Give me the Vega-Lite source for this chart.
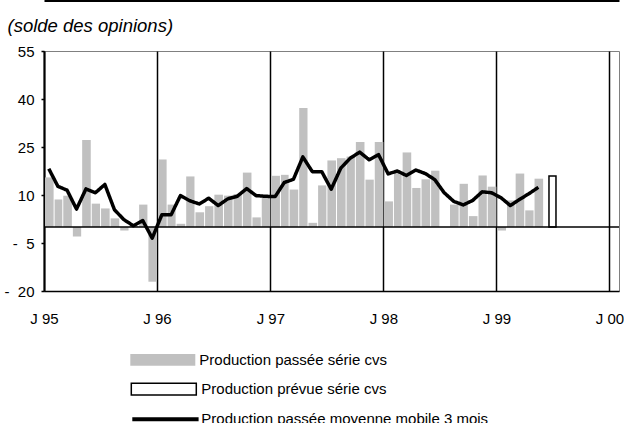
{
  "$schema": "https://vega.github.io/schema/vega-lite/v6.json",
  "width": 575,
  "height": 240,
  "padding": {"left": 3, "top": 0, "right": 0, "bottom": 0},
  "background": "white",
  "config": {
    "view": {"stroke": "#808080", "strokeWidth": 1},
    "font": "Liberation Sans",
    "axis": {"labelFont": "Liberation Sans", "titleFont": "Liberation Sans", "labelColor": "black", "titleColor": "black"},
    "legend": {"labelFont": "Liberation Sans", "labelFontSize": 15, "labelColor": "black", "labelLimit": 400, "padding": 0, "title": null}
  },
  "datasets": {
    "passee": [
      {"mois": "1995/01/01", "valeur": 15.5}, {"mois": "1995/02/01", "valeur": 8.6}, {"mois": "1995/03/01", "valeur": 9.8},
      {"mois": "1995/04/01", "valeur": -3}, {"mois": "1995/05/01", "valeur": 27.2}, {"mois": "1995/06/01", "valeur": 7.3},
      {"mois": "1995/07/01", "valeur": 5.8}, {"mois": "1995/08/01", "valeur": 2.7}, {"mois": "1995/09/01", "valeur": -1.1},
      {"mois": "1995/10/01", "valeur": 0.3}, {"mois": "1995/11/01", "valeur": 7}, {"mois": "1995/12/01", "valeur": -17.1},
      {"mois": "1996/01/01", "valeur": 21.1}, {"mois": "1996/02/01", "valeur": 7}, {"mois": "1996/03/01", "valeur": 1},
      {"mois": "1996/04/01", "valeur": 15.8}, {"mois": "1996/05/01", "valeur": 4.6}, {"mois": "1996/06/01", "valeur": 6.5},
      {"mois": "1996/07/01", "valeur": 10.1}, {"mois": "1996/08/01", "valeur": 9.8}, {"mois": "1996/09/01", "valeur": 10.3},
      {"mois": "1996/10/01", "valeur": 17}, {"mois": "1996/11/01", "valeur": 3}, {"mois": "1996/12/01", "valeur": 9.5},
      {"mois": "1997/01/01", "valeur": 16}, {"mois": "1997/02/01", "valeur": 16.3}, {"mois": "1997/03/01", "valeur": 11.7},
      {"mois": "1997/04/01", "valeur": 37.2}, {"mois": "1997/05/01", "valeur": 1.3}, {"mois": "1997/06/01", "valeur": 13},
      {"mois": "1997/07/01", "valeur": 20.8}, {"mois": "1997/08/01", "valeur": 21.5}, {"mois": "1997/09/01", "valeur": 22},
      {"mois": "1997/10/01", "valeur": 26.6}, {"mois": "1997/11/01", "valeur": 14.8}, {"mois": "1997/12/01", "valeur": 26.6},
      {"mois": "1998/01/01", "valeur": 8}, {"mois": "1998/02/01", "valeur": 17.3}, {"mois": "1998/03/01", "valeur": 23.3},
      {"mois": "1998/04/01", "valeur": 12.2}, {"mois": "1998/05/01", "valeur": 14.9}, {"mois": "1998/06/01", "valeur": 17.6},
      {"mois": "1998/07/01", "valeur": 0}, {"mois": "1998/08/01", "valeur": 7}, {"mois": "1998/09/01", "valeur": 13.5},
      {"mois": "1998/10/01", "valeur": 3.4}, {"mois": "1998/11/01", "valeur": 16.1}, {"mois": "1998/12/01", "valeur": 12.6},
      {"mois": "1999/01/01", "valeur": -1.1}, {"mois": "1999/02/01", "valeur": 8.3}, {"mois": "1999/03/01", "valeur": 16.7},
      {"mois": "1999/04/01", "valeur": 5.2}, {"mois": "1999/05/01", "valeur": 15.1}
    ],
    "prevue": [
      {"mois": "1999/06/01", "valeur": 15.9}
    ],
    "mm": [
      {"mois": "1995/01/01", "valeur": 18.2}, {"mois": "1995/02/01", "valeur": 12.7}, {"mois": "1995/03/01", "valeur": 11.5},
      {"mois": "1995/04/01", "valeur": 5.6}, {"mois": "1995/05/01", "valeur": 11.9}, {"mois": "1995/06/01", "valeur": 10.7},
      {"mois": "1995/07/01", "valeur": 13.3}, {"mois": "1995/08/01", "valeur": 5.4}, {"mois": "1995/09/01", "valeur": 2.3},
      {"mois": "1995/10/01", "valeur": 0.4}, {"mois": "1995/11/01", "valeur": 2}, {"mois": "1995/12/01", "valeur": -3.5},
      {"mois": "1996/01/01", "valeur": 3.8}, {"mois": "1996/02/01", "valeur": 3.8}, {"mois": "1996/03/01", "valeur": 9.8},
      {"mois": "1996/04/01", "valeur": 8.2}, {"mois": "1996/05/01", "valeur": 7.2}, {"mois": "1996/06/01", "valeur": 9},
      {"mois": "1996/07/01", "valeur": 6.7}, {"mois": "1996/08/01", "valeur": 8.8}, {"mois": "1996/09/01", "valeur": 9.6},
      {"mois": "1996/10/01", "valeur": 12}, {"mois": "1996/11/01", "valeur": 9.8}, {"mois": "1996/12/01", "valeur": 9.6},
      {"mois": "1997/01/01", "valeur": 9.5}, {"mois": "1997/02/01", "valeur": 13.9}, {"mois": "1997/03/01", "valeur": 14.9},
      {"mois": "1997/04/01", "valeur": 21.9}, {"mois": "1997/05/01", "valeur": 17.3}, {"mois": "1997/06/01", "valeur": 17.3},
      {"mois": "1997/07/01", "valeur": 11.8}, {"mois": "1997/08/01", "valeur": 18.4}, {"mois": "1997/09/01", "valeur": 21.5},
      {"mois": "1997/10/01", "valeur": 23.4}, {"mois": "1997/11/01", "valeur": 21}, {"mois": "1997/12/01", "valeur": 22.6},
      {"mois": "1998/01/01", "valeur": 16.6}, {"mois": "1998/02/01", "valeur": 17.5}, {"mois": "1998/03/01", "valeur": 16.1},
      {"mois": "1998/04/01", "valeur": 17.8}, {"mois": "1998/05/01", "valeur": 16.7}, {"mois": "1998/06/01", "valeur": 14.8},
      {"mois": "1998/07/01", "valeur": 10.7}, {"mois": "1998/08/01", "valeur": 8}, {"mois": "1998/09/01", "valeur": 6.9},
      {"mois": "1998/10/01", "valeur": 8.3}, {"mois": "1998/11/01", "valeur": 11}, {"mois": "1998/12/01", "valeur": 10.7},
      {"mois": "1999/01/01", "valeur": 9.1}, {"mois": "1999/02/01", "valeur": 6.7}, {"mois": "1999/03/01", "valeur": 8.6},
      {"mois": "1999/04/01", "valeur": 10.4}, {"mois": "1999/05/01", "valeur": 12.4}
    ]
  },
  "layer": [
    {
      "data": {"name": "passee"},
      "mark": {"type": "bar", "color": "#c0c0c0"},
      "encoding": {
        "x": {
          "field": "mois", "type": "temporal", "timeUnit": "yearmonth",
          "scale": {"domain": [{"year": 1995, "month": 1, "date": 1}, {"year": 2000, "month": 2, "date": 1}]},
          "axis": {
            "orient": "bottom", "title": null,
            "tickCount": {"interval": "year", "step": 1},
            "labelExpr": "'J ' + timeFormat(datum.value, '%y')",
            "grid": true, "gridColor": "black", "gridWidth": 1.5, "gridOpacity": 1,
            "ticks": false, "tickSize": 0, "labelPadding": 20,
            "domainColor": "black", "domainWidth": 1.5,
            "labelFontSize": 15, "labelAlign": "center"
          }
        },
        "y": {
          "field": "valeur", "type": "quantitative",
          "scale": {"domain": [-20, 55], "nice": false, "zero": false},
          "axis": {
            "title": null, "values": [-20, -5, 10, 25, 40, 55],
            "labelExpr": "datum.value < 0 ? '-\u00a0\u00a0' + abs(datum.value) : '' + datum.value",
            "grid": false, "domainColor": "black", "domainWidth": 2,
            "tickColor": "black", "tickWidth": 1.5, "tickSize": 3,
            "labelPadding": 7, "labelFontSize": 15
          }
        },
        "color": {
          "datum": "Production passée série cvs", "type": "nominal",
          "scale": {"domain": ["Production passée série cvs"], "range": ["#c0c0c0"]},
          "legend": {
            "orient": "none", "legendX": 86.3, "legendY": 276.3,
            "symbolSize": 4225, "symbolType": "M-1,-0.18H1V0.18H-1Z",
            "symbolStrokeWidth": 0, "labelOffset": 4
          }
        }
      }
    },
    {
      "data": {"name": "prevue"},
      "mark": {"type": "bar", "fill": "white", "strokeWidth": 1.5, "width": 7, "xOffset": 4.7},
      "encoding": {
        "x": {"field": "mois", "type": "temporal", "timeUnit": "yearmonth", "axis": null},
        "y": {"field": "valeur", "type": "quantitative"},
        "stroke": {
          "datum": "Production prévue série cvs", "type": "nominal",
          "scale": {"domain": ["Production prévue série cvs"], "range": ["#000000"]},
          "legend": {
            "orient": "none", "legendX": 86.3, "legendY": 304.7,
            "symbolSize": 4225, "symbolType": "M-1,-0.18H1V0.18H-1Z",
            "symbolFillColor": "#ffffff", "symbolStrokeWidth": 1.5, "labelOffset": 4
          }
        }
      }
    },
    {
      "data": {"values": [{}]},
      "mark": {"type": "rule", "color": "black", "strokeWidth": 1.5},
      "encoding": {"y": {"datum": 0}}
    },
    {
      "data": {"name": "mm"},
      "mark": {"type": "line", "color": "black", "strokeWidth": 3.5, "strokeJoin": "round"},
      "encoding": {
        "x": {
          "field": "mois", "type": "temporal", "timeUnit": "yearmonth", "bandPosition": 0.5,
          "axis": {
            "orient": "top", "offset": 51, "labels": false, "ticks": false, "grid": false,
            "domainColor": "black", "domainWidth": 3,
            "title": "(solde des opinions)", "titleX": -37, "titleY": 31,
            "titleAlign": "left", "titleBaseline": "alphabetic", "titleAngle": 0,
            "titleFontSize": 18.5, "titleFontStyle": "italic", "titleFontWeight": "normal"
          }
        },
        "y": {"field": "valeur", "type": "quantitative"},
        "strokeDash": {
          "datum": "Production passée moyenne mobile 3 mois", "type": "nominal",
          "scale": {"domain": ["Production passée moyenne mobile 3 mois"], "range": [[1, 0]]},
          "legend": {
            "orient": "none", "legendX": 86.3, "legendY": 333.8,
            "symbolSize": 4225, "symbolType": "M-1,0H1.04",
            "symbolStrokeColor": "#000000", "symbolStrokeWidth": 4, "labelOffset": 2
          }
        }
      }
    }
  ]
}
